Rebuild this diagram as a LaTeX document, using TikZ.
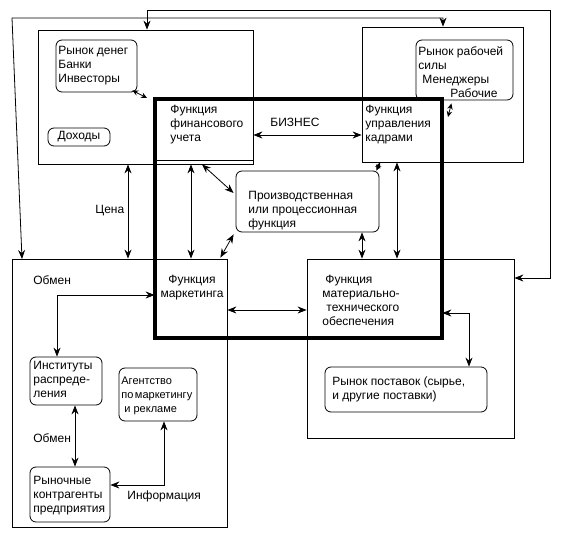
\documentclass[tikz,border=0pt]{standalone}
\usepackage{fontspec}
\setmainfont{Liberation Sans}
\usetikzlibrary{arrows.meta}
\newcommand\dfont{\fontsize{12}{14}\selectfont}
\begin{document}
\begin{tikzpicture}[x=1pt,y=-1pt,
  line width=0.8pt,
  >={Stealth[length=9pt,width=7pt,inset=3pt]},
  small/.style={{Stealth[length=6pt,width=5.5pt,inset=2pt]}-{Stealth[length=6pt,width=5.5pt,inset=2pt]}},
  txt/.style={font=\dfont, align=left, inner sep=0pt, anchor=north west, execute at begin node=\strut},
  quad/.style={draw, rectangle, inner sep=0pt},
  rbox/.style={draw, rounded corners=6pt, inner sep=0pt, font=\dfont},
  area/.style={rectangle, inner sep=0pt},
  thick box/.style={draw, rectangle, inner sep=0pt, line width=4pt}
]
\useasboundingbox (0,0) rectangle (563,533);

% quadrants
\node[quad, minimum width=215pt, minimum height=134pt] (finq) at (145.5,97) {};
\node[quad, minimum width=161pt, minimum height=135pt] (hrq) at (442.5,94.5) {};
\node[quad, minimum width=215pt, minimum height=268pt] (mktq) at (119.5,393) {};
\node[quad, minimum width=207pt, minimum height=179pt] (matq) at (410.5,348.5) {};

% function areas
\node[area, minimum width=98pt, minimum height=61pt] (finf) at (204,129.5) {};
\node[area, minimum width=80pt, minimum height=63pt] (hrf) at (402,130.5) {};
\node[area, minimum width=72pt, minimum height=79pt] (mktf) at (191,298.5) {};
\node[area, minimum width=135pt, minimum height=79pt] (matf) at (374.5,298.5) {};
\draw (finf.south west) -- (finf.south east);

% rounded boxes
\node[rbox, minimum width=81pt, minimum height=52pt] (money) at (96.5,66) {};
\node[rbox, minimum width=62pt, minimum height=18pt] (doh) at (79,137) {Доходы};
\node[rbox, minimum width=97pt, minimum height=60pt] (labor) at (464.5,70) {};
\node[rbox, minimum width=143pt, minimum height=61pt] (prod) at (307.5,201.5) {};
\node[rbox, minimum width=72pt, minimum height=48pt] (inst) at (66,381) {};
\node[rbox, minimum width=78pt, minimum height=53pt] (agency) at (158,394.5) {};
\node[rbox, minimum width=80pt, minimum height=55pt] (contr) at (70,494.5) {};
\node[rbox, minimum width=162pt, minimum height=45pt] (supply) at (406,389.5) {};

% business box
\node[thick box, minimum width=287pt, minimum height=239pt] (biz) at (298.5,218.5) {};

% texts
\node[txt] (tmoney) at (58,46.3) {Рынок денег\\Банки\\Инвесторы};
\node[txt] (tfin) at (170,104.3) {Функция\\финансового\\учета};
\node[txt] (tbiz) at (270,116.3) {БИЗНЕС};
\node[txt] (thr) at (365,104.3) {Функция\\управления\\кадрами};
\node[txt] (tlabor) at (418,46.3) {Рынок рабочей\\силы\\\hspace*{4pt}Менеджеры\\\hspace*{32pt}Рабочие};
\node[txt] (tprod) at (248,191.3) {Производственная\\или процессионная\\функция};
\node[txt] (tprice) at (95,203.3) {Цена};
\node[txt] (tobm1) at (33,274.3) {Обмен};
\node[txt, anchor=north, align=center] (tmkt) at (192,274.3) {Функция\\маркетинга};
\node[txt] (tmat) at (322,274.3) {\hspace*{3pt}Функция\\материально-\\\hspace*{4pt}технического\\обеспечения};
\node[txt] (tsupply) at (332,376.3) {Рынок поставок (сырье,\\и другие поставки)};
\node[txt] (tinst) at (33,361.3) {Институты\\распреде-\\ления};
\node[txt, font=\fontsize{11}{14}\selectfont] (tagency) at (121,376.3) {Агентство\\по\hspace{1.5pt}маркетингу\\\hspace*{3pt}и рекламе};
\node[txt] (tobm2) at (33,432.3) {Обмен};
\node[txt] (tcontr) at (33,476.3) {Рыночные\\контрагенты\\предприятия};
\node[txt] (tinfo) at (127,489.3) {Информация};

% helper coordinates
\coordinate (t1) at (147,10);
\coordinate (t2) at (550,10);
\coordinate (r1) at (550,278);
\coordinate (s1) at (443,18);
\coordinate (s2) at (12,18);
\coordinate (s3) at (22,259);
\coordinate (y135) at (0,135);
\coordinate (y295) at (0,295);
\coordinate (y310) at (0,310);
\coordinate (y313) at (0,313);
\coordinate (y485) at (0,485);
\coordinate (x57) at (57,0);
\coordinate (x75) at (75,0);
\coordinate (x128) at (128,0);
\coordinate (x164) at (164,0);
\coordinate (x191) at (191,0);
\coordinate (x362) at (362,0);
\coordinate (x380) at (380,0);
\coordinate (x397) at (397,0);
\coordinate (x469) at (469,0);

% connectors
\draw[<->] (finq.north -| t1) -- (t1) -- (t2) -- (r1) -- (r1 -| matq.east);
\draw[<->] (hrq.north -| s1) -- (s1) -- (s2) -- (s3);
\draw[<->] (y135 -| finq.east) -- (y135 -| hrq.west);
\draw[small] ([shift={(-5,-2)}]money.south east) -- ([shift={(-6,1)}]biz.north west);
\draw[small] ([shift={(-62,3)}]labor.south east) -- ([shift={(4,20)}]biz.north east);
\draw[<->] ([shift={(-2,4)}]finf.south) -- ([shift={(-2,-8.5)}]prod.west);
\draw[<->] ([shift={(-2,2)}]prod.south west) -- ([shift={(-7,-1)}]mktf.north east);
\draw[small] ([shift={(-3,0)}]prod.north east) -- (hrq.south -| x380);
\draw[<->] (prod.south -| x362) -- (matq.north -| x362);
\draw[<->] (hrq.south -| x397) -- (matq.north -| x397);
\draw[<->] (finq.south -| x128) -- (mktq.north -| x128);
\draw[<->] (finq.south -| x191) -- (mktq.north -| x191);
\draw[<->] (mktf.west |- y295) -| (inst.north -| x57);
\draw[<->] (mktq.east |- y310) -- (matf.west |- y310);
\draw[<->] (matf.east |- y313) -| (supply.north -| x469);
\draw[<->] (inst.south -| x75) -- (contr.north -| x75);
\draw[<->] (agency.south -| x164) |- (contr.east |- y485);
\end{tikzpicture}
\end{document}
